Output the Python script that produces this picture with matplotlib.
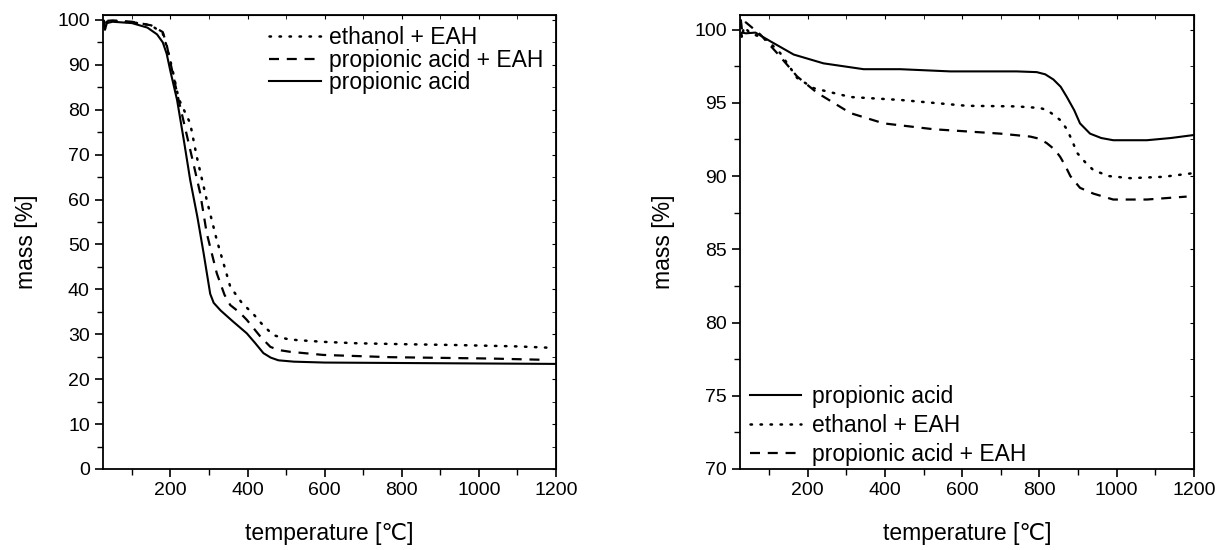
import matplotlib
matplotlib.use("Agg")
from matplotlib import pyplot as plt
from matplotlib.ticker import MultipleLocator

plt.rcParams['font.family'] = ['Liberation Sans', 'DejaVu Sans']
plt.rcParams['font.size'] = 14

# left panel: full scale TG curves
l_pa_T = [27, 30, 35, 50, 100, 140, 165, 180, 190, 200, 217, 235, 251, 270, 286, 303, 312, 330,
          360, 398, 420, 441, 460, 480, 520, 600, 800, 1000, 1200]
l_pa_m = [99.5, 97.8, 99.3, 99.6, 99.3, 98.3, 96.8, 95.0, 92.5, 88.5, 82.2, 73.0, 64.4, 56.0,
          48.0, 39.0, 37.0, 35.3, 33.0, 30.2, 28.0, 25.8, 24.8, 24.2, 23.9, 23.7, 23.6, 23.5, 23.4]

l_paeah_T = [27, 30, 35, 50, 100, 150, 180, 190, 200, 221, 240, 260, 277, 294, 320, 340, 355, 380,
             398, 433, 459, 480, 510, 596, 770, 1028, 1175]
l_paeah_m = [100.0, 98.0, 99.8, 99.9, 99.6, 98.8, 97.3, 94.5, 90.4, 82.2, 75.2, 67.8, 61.4, 52.5,
             43.6, 38.8, 36.5, 34.8, 33.2, 29.5, 27.2, 26.5, 26.1, 25.4, 24.9, 24.6, 24.3]

l_eteah_T = [27, 30, 35, 50, 100, 150, 180, 192, 205, 221, 251, 268, 294, 320, 355, 385, 415, 440,
             467, 500, 528, 600, 683, 800, 942, 1100, 1184]
l_eteah_m = [99.8, 98.5, 99.6, 99.7, 99.5, 98.8, 97.0, 93.5, 89.0, 82.5, 77.0, 69.6, 59.9, 51.0,
             40.6, 37.0, 34.5, 32.0, 29.8, 29.0, 28.7, 28.3, 28.0, 27.8, 27.6, 27.3, 27.0]

# right panel: zoomed TG curves
r_pa_T = [27, 30, 40, 65, 104, 164, 241, 345, 440, 569, 741, 793, 815, 836, 855, 871, 890, 905,
          931, 960, 991, 1078, 1140, 1198]
r_pa_m = [99.6, 99.8, 99.75, 99.8, 99.2, 98.3, 97.7, 97.3, 97.3, 97.15, 97.15, 97.1, 96.95, 96.6,
          96.1, 95.4, 94.5, 93.6, 92.9, 92.6, 92.45, 92.45, 92.6, 92.8]

r_eteah_T = [27, 30, 35, 50, 95, 129, 173, 216, 311, 440, 612, 741, 802, 820, 836, 855, 871, 885,
             897, 920, 940, 980, 1035, 1120, 1198]
r_eteah_m = [100.3, 99.4, 100.2, 99.8, 99.3, 98.4, 96.7, 96.0, 95.4, 95.2, 94.8, 94.76, 94.65,
             94.5, 94.2, 93.8, 93.2, 92.4, 91.6, 90.9, 90.4, 90.0, 89.86, 89.95, 90.2]

r_paeah_T = [27, 30, 40, 78, 121, 173, 224, 311, 397, 526, 699, 776, 800, 819, 840, 854, 867, 880,
             905, 940, 991, 1078, 1181]
r_paeah_m = [100.7, 100.0, 100.5, 99.66, 98.4, 96.8, 95.7, 94.3, 93.6, 93.2, 92.9, 92.7, 92.55,
             92.25, 91.8, 91.3, 90.7, 90.0, 89.2, 88.8, 88.4, 88.4, 88.6]

solid = dict(color='black', lw=1.5, ls='-')
dotted = dict(color='black', lw=1.8, ls=(0, (0.6, 3.4)), dash_capstyle='round')
dashed = dict(color='black', lw=1.6, ls=(0, (4.5, 3.5)))

fs = 16.5

fig = plt.figure(figsize=(12.28, 5.5), dpi=100)
ax1 = fig.add_axes([0.0839, 0.1473, 0.3689, 0.8254])
ax2 = fig.add_axes([0.6026, 0.1473, 0.3697, 0.8254])

ax1.plot(l_eteah_T, l_eteah_m, label='ethanol + EAH', **dotted)
ax1.plot(l_paeah_T, l_paeah_m, label='propionic acid + EAH', **dashed)
ax1.plot(l_pa_T, l_pa_m, label='propionic acid', **solid)

ax2.plot(r_pa_T, r_pa_m, label='propionic acid', **solid)
ax2.plot(r_eteah_T, r_eteah_m, label='ethanol + EAH', **dotted)
ax2.plot(r_paeah_T, r_paeah_m, label='propionic acid + EAH', **dashed)

ax1.set_xlim(25, 1200)
ax1.set_ylim(0, 101.1)
ax2.set_xlim(25, 1200)
ax2.set_ylim(70, 101.0)

ax1.yaxis.set_major_locator(MultipleLocator(10))
ax1.yaxis.set_minor_locator(MultipleLocator(5))
ax2.yaxis.set_major_locator(MultipleLocator(5))
ax2.yaxis.set_minor_locator(MultipleLocator(2.5))

for ax in (ax1, ax2):
    ax.xaxis.set_major_locator(MultipleLocator(200))
    ax.xaxis.set_minor_locator(MultipleLocator(100))
    ax.tick_params(which='major', direction='out', length=6, width=1.2, labelsize=14)
    ax.tick_params(which='minor', direction='out', length=4, width=1.0)
    for s in ax.spines.values():
        s.set_linewidth(1.3)
    top = ax.secondary_xaxis('top')
    top.xaxis.set_major_locator(MultipleLocator(200))
    top.xaxis.set_minor_locator(MultipleLocator(100))
    top.tick_params(which='both', direction='in', length=3, labeltop=False)
    right = ax.secondary_yaxis('right')
    right.yaxis.set_major_locator(ax.yaxis.get_major_locator())
    right.yaxis.set_minor_locator(ax.yaxis.get_minor_locator())
    right.tick_params(which='both', direction='in', length=3, labelright=False)
    ax.set_xlabel('temperature [\u2103]', fontsize=fs, labelpad=16.5)
    ax.set_ylabel('mass [%]', fontsize=fs, labelpad=14)

ax1.legend(loc='upper right', frameon=False, fontsize=fs, handlelength=2.3,
           handletextpad=0.35, labelspacing=-0.04, borderaxespad=0.0,
           bbox_to_anchor=(0.993, 0.995))
ax2.legend(loc='lower left', frameon=False, fontsize=fs, handlelength=2.2,
           handletextpad=0.5, labelspacing=0.27, borderaxespad=0.05,
           bbox_to_anchor=(0.0, -0.017))

fig.savefig('out.png', dpi=100)
